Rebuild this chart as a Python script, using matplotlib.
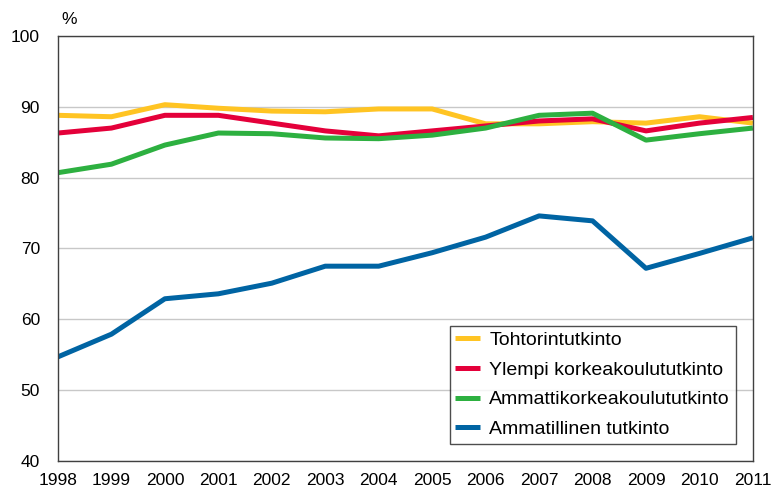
import matplotlib.pyplot as plt

plt.rcParams['font.family'] = ['Liberation Sans', 'DejaVu Sans']

years = list(range(1998, 2012))
tohtori = [88.8, 88.6, 90.3, 89.8, 89.4, 89.3, 89.7, 89.7, 87.6, 87.6, 87.9, 87.7, 88.6, 87.7]
ylempi = [86.3, 87.0, 88.8, 88.8, 87.7, 86.6, 85.9, 86.6, 87.3, 88.0, 88.3, 86.6, 87.7, 88.5]
amk = [80.7, 81.9, 84.6, 86.3, 86.2, 85.6, 85.5, 86.0, 87.0, 88.8, 89.1, 85.3, 86.2, 87.0]
ammatillinen = [54.7, 57.9, 62.9, 63.6, 65.1, 67.5, 67.5, 69.4, 71.6, 74.6, 73.9, 67.2, 69.3, 71.5]

labels = ['Tohtorintutkinto', 'Ylempi korkeakoulututkinto',
          'Ammattikorkeakoulututkinto', 'Ammatillinen tutkinto']
colors = ['#FFC423', '#E4003A', '#2DB040', '#0064A3']

fig = plt.figure(figsize=(7.73, 4.93), dpi=100)
ax = fig.add_axes([0.075, 0.065, 0.899, 0.862])

for vals, lab, c in zip([tohtori, ylempi, amk, ammatillinen], labels, colors):
    ax.plot(years, vals, color=c, lw=3.6, label=lab, solid_capstyle='butt')

ax.set_xlim(1998, 2011)
ax.set_ylim(40, 100)
ax.set_yticks(range(40, 101, 10))
ax.set_xticks(years)
ax.grid(axis='y', color='#c8c8c8', lw=1)
ax.set_axisbelow(True)
ax.tick_params(length=0, labelsize=12.5)
ax.tick_params(axis='y', pad=13)
ax.tick_params(axis='x', pad=9)
for s in ax.spines.values():
    s.set_color('#404040')
    s.set_linewidth(1)

ax.text(0.005, 1.02, '%', transform=ax.transAxes, fontsize=12.5, va='bottom')

leg = ax.legend(loc='lower right', bbox_to_anchor=(0.9755, 0.04), fontsize=14,
                frameon=True, fancybox=False, handlelength=1.25, borderpad=0.3,
                labelspacing=0.62, handletextpad=0.5, borderaxespad=0)
leg.get_frame().set_edgecolor('#202020')
leg.get_frame().set_linewidth(1)

fig.savefig('out.png', dpi=100)
